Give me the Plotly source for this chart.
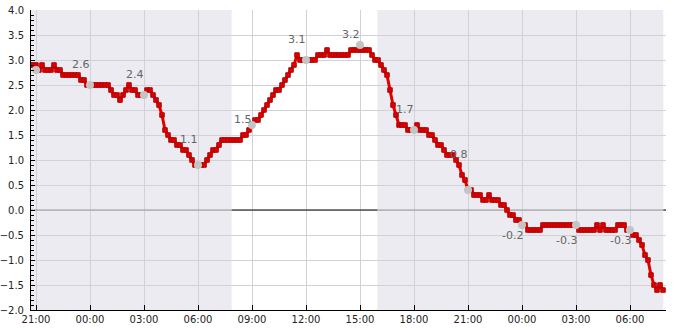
import plotly.graph_objects as go
from datetime import datetime, timedelta

# ---- data ----
start_time = "2024-01-01 20:40"   # first reading, 10-minute interval
step_minutes = 10
temps = [
    2.9, 2.9,                            # 20:40, 20:50
    2.9, 2.8, 2.9, 2.8, 2.8, 2.8,        # 21
    2.9, 2.8, 2.8, 2.7, 2.7, 2.7,        # 22
    2.7, 2.7, 2.7, 2.6, 2.6, 2.5,        # 23
    2.5, 2.5, 2.5, 2.5, 2.5, 2.5,        # 00
    2.5, 2.4, 2.3, 2.3, 2.2, 2.3,        # 01
    2.4, 2.5, 2.4, 2.4, 2.3, 2.3,        # 02
    2.3, 2.4, 2.4, 2.3, 2.2, 2.1,        # 03
    1.9, 1.6, 1.5, 1.4, 1.4, 1.3,        # 04
    1.3, 1.2, 1.2, 1.1, 1.0, 0.9,        # 05
    0.9, 0.9, 0.9, 1.0, 1.1, 1.2,        # 06
    1.2, 1.3, 1.4, 1.4, 1.4, 1.4,        # 07
    1.4, 1.4, 1.4, 1.5, 1.5, 1.6,        # 08
    1.7, 1.8, 1.8, 1.9, 2.0, 2.1,        # 09
    2.2, 2.3, 2.4, 2.4, 2.5, 2.6,        # 10
    2.7, 2.8, 2.9, 3.1, 3.0, 3.0,        # 11
    3.0, 3.0, 3.0, 3.0, 3.1, 3.1,        # 12
    3.1, 3.2, 3.1, 3.1, 3.1, 3.1,        # 13
    3.1, 3.1, 3.1, 3.2, 3.2, 3.2,        # 14
    3.2, 3.2, 3.2, 3.2, 3.1, 3.0,        # 15
    3.0, 2.9, 2.8, 2.7, 2.4, 2.1,        # 16
    1.9, 1.7, 1.7, 1.7, 1.6, 1.6,        # 17
    1.6, 1.7, 1.6, 1.6, 1.6, 1.5,        # 18
    1.5, 1.4, 1.3, 1.3, 1.2, 1.1,        # 19
    1.1, 1.1, 1.0, 0.9, 0.7, 0.6,        # 20
    0.4, 0.4, 0.3, 0.3, 0.3, 0.2,        # 21
    0.2, 0.3, 0.2, 0.2, 0.2, 0.1,        # 22
    0.1, 0.0, -0.1, -0.1, -0.2, -0.2,    # 23
    -0.3, -0.3, -0.4, -0.4, -0.4, -0.4,  # 00
    -0.4, -0.3, -0.3, -0.3, -0.3, -0.3,  # 01
    -0.3, -0.3, -0.3, -0.3, -0.3, -0.3,  # 02
    -0.3, -0.4, -0.4, -0.4, -0.4, -0.4,  # 03
    -0.4, -0.3, -0.4, -0.3, -0.4, -0.4,  # 04
    -0.4, -0.4, -0.3, -0.3, -0.3, -0.4,  # 05
    -0.4, -0.5, -0.5, -0.6, -0.7, -0.9,  # 06
    -1.0, -1.3, -1.5, -1.6, -1.5, -1.6,  # 07
]

hourly_times = ["2024-01-01 21:00", "2024-01-02 00:00", "2024-01-02 03:00",
                "2024-01-02 06:00", "2024-01-02 09:00", "2024-01-02 12:00",
                "2024-01-02 15:00", "2024-01-02 18:00", "2024-01-02 21:00",
                "2024-01-03 00:00", "2024-01-03 03:00", "2024-01-03 06:00"]
hourly_values = [2.8, 2.5, 2.3, 0.9, 1.7, 3.0, 3.3, 1.6, 0.4, -0.3, -0.3, -0.4]
label_values = [None, 2.6, 2.4, 1.1, 1.5, 3.1, 3.2, 1.7, 0.8, -0.2, -0.3, -0.3]

night_periods = [("2024-01-01 20:43", "2024-01-02 07:52"),
                 ("2024-01-02 15:58", "2024-01-03 07:51")]
day_periods = [("2024-01-02 07:52", "2024-01-02 15:58"),
               ("2024-01-03 07:51", "2024-01-03 08:00")]

x_range = ["2024-01-01 20:43:20", "2024-01-03 08:00"]
y_range = [-2.0, 4.0]

# ---- build ----
t0 = datetime.strptime(start_time, "%Y-%m-%d %H:%M")
times = [t0 + timedelta(minutes=step_minutes * i) for i in range(len(temps))]

fig = go.Figure()

fig.add_trace(go.Scatter(
    x=times, y=temps, mode="lines+markers",
    line=dict(color="#e00000", width=3),
    marker=dict(symbol="square", size=4.5, color="#dc0000",
                line=dict(color="#b40000", width=1)),
    hoverinfo="skip", showlegend=False))

fig.add_trace(go.Scatter(
    x=hourly_times, y=hourly_values, mode="markers",
    marker=dict(size=8, color="#c4c4c4"),
    showlegend=False))

shapes = []
for a, b in night_periods:
    shapes.append(dict(type="rect", xref="x", yref="paper", x0=a, x1=b, y0=0, y1=1,
                       fillcolor="#ebebf1", line_width=0, layer="below"))
for a, b in day_periods:
    shapes.append(dict(type="line", xref="x", yref="y", x0=a, x1=b, y0=0, y1=0,
                       line=dict(color="#000000", width=1), layer="between"))
for a, b in night_periods:
    shapes.append(dict(type="line", xref="x", yref="y", x0=a, x1=b, y0=0, y1=0,
                       line=dict(color="#999999", width=1), layer="between"))

annotations = []
for t, v in zip(hourly_times, label_values):
    if v is None:
        continue
    annotations.append(dict(
        x=t, y=v, xref="x", yref="y", text=f"{v:.1f}", showarrow=False,
        xshift=-9.5, yshift=16 if v >= 0 else -15,
        font=dict(family="DejaVu Sans", size=11, color="#666666")))

fig.update_layout(
    width=685, height=330,
    margin=dict(l=31, r=19, t=10, b=20, autoexpand=False),
    paper_bgcolor="white", plot_bgcolor="white",
    font=dict(family="DejaVu Sans", size=10, color="#222222"),
    shapes=shapes, annotations=annotations,
    xaxis=dict(type="date", range=x_range, tickformat="%H:%M", automargin=False,
               tick0="2024-01-01 21:00", dtick=3 * 3600 * 1000,
               ticks="inside", ticklen=5, tickcolor="#000000",
               showline=True, linecolor="#000000", linewidth=1,
               showgrid=True, gridcolor="#d2d2d6", gridwidth=1,
               zeroline=False, tickfont=dict(size=10)),
    yaxis=dict(range=y_range, dtick=0.5, tickformat=".1f", automargin=False,
               ticks="inside", ticklen=4, tickcolor="#000000",
               showline=True, linecolor="#000000", linewidth=1,
               showgrid=True, gridcolor="#d2d2d6", gridwidth=1,
               zeroline=False, tickfont=dict(size=10), ticklabelstandoff=4,
               minor=dict(dtick=0.1, ticks="inside", ticklen=2.5,
                          tickcolor="#000000", showgrid=False)),
)

fig.write_html("out.html")
